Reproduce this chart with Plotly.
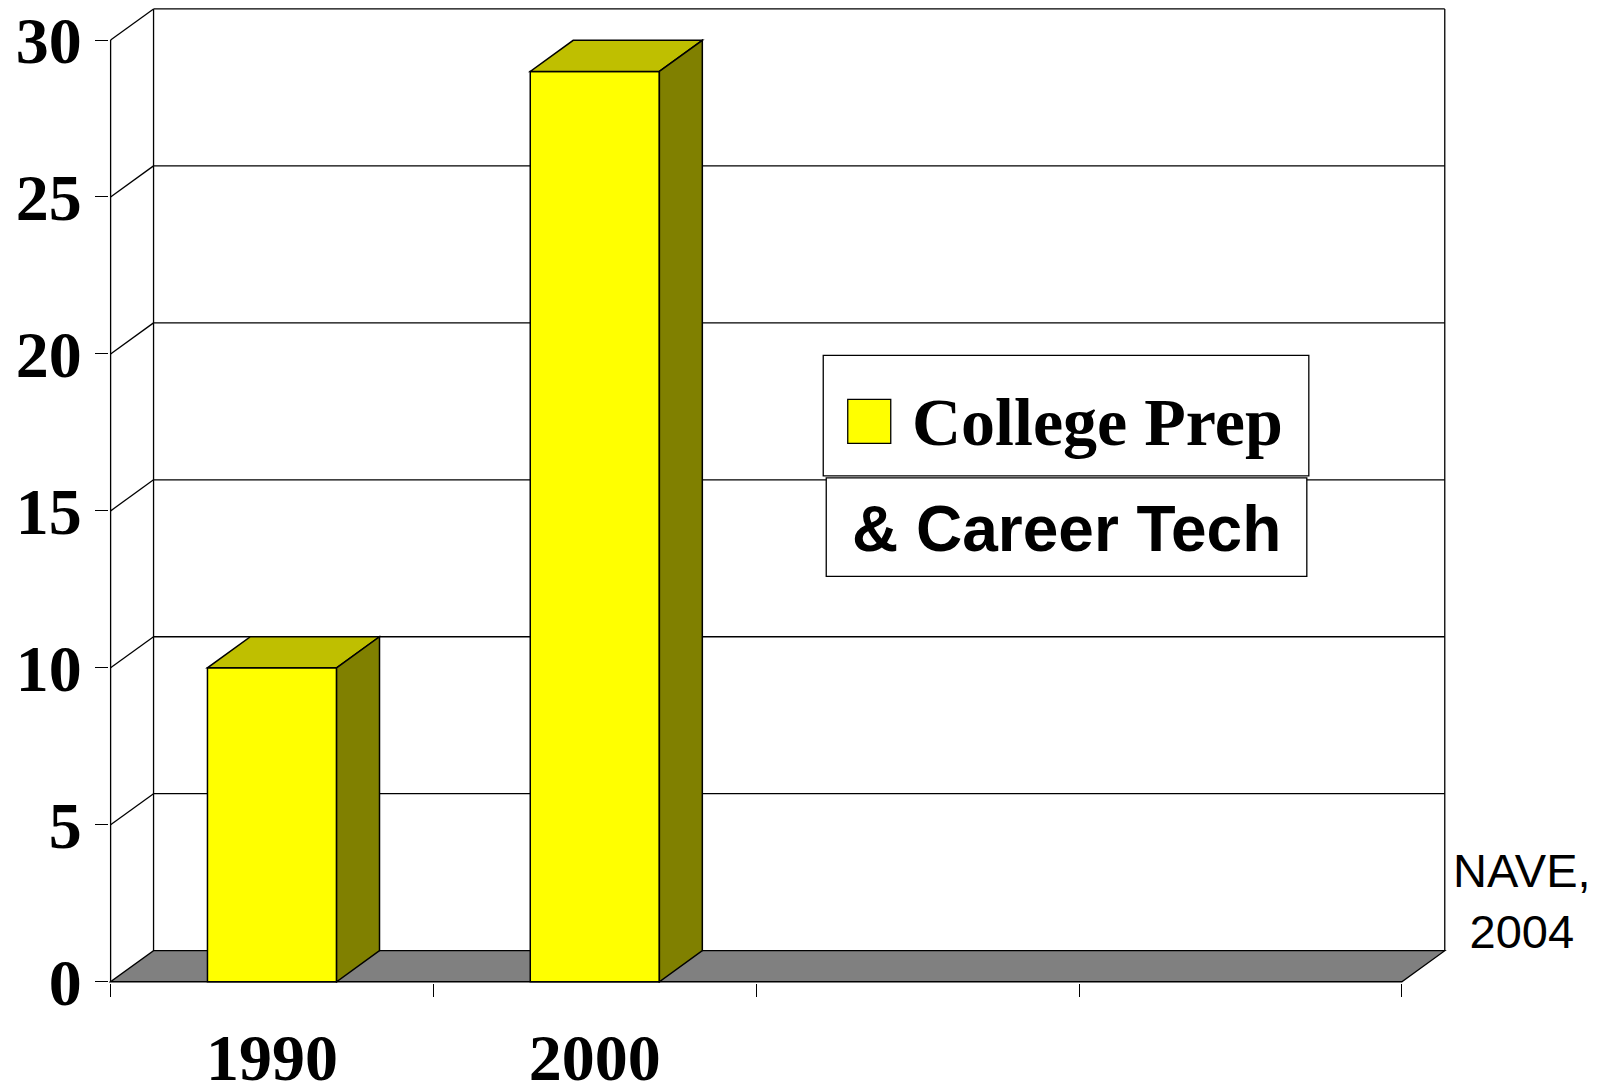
import plotly.graph_objects as go

categories = ["1990", "2000", " ", "  "]
college_prep = [10, 29, None, None]
series_name = "College Prep"
series_note = "& Career Tech"
y_ticks = [0, 5, 10, 15, 20, 25, 30]
source_note = "NAVE,<br>2004"

OFF = 8                       # page body margin
W, H = 1606 - OFF, 1083 - OFF
DX, DY = 0.133, 0.99          # depth of the 3D box, in data units
BAR_W = 0.4
S_X, S_Y = 322.75, 31.4       # px per data unit
X0PX, Y0PX = 111 - OFF, 982 - OFF
X0, X1 = -0.5, len(categories) - 0.5
Y_TOP = max(y_ticks)

x_lo, x_hi = X0 - 0.005, X1 + DX + 0.01
y_lo, y_hi = -0.04, Y_TOP + DY + 0.03
L = X0PX - (X0 - x_lo) * S_X
R = W - (L + (x_hi - x_lo) * S_X)
T = max(0, Y0PX - y_hi * S_Y)
B = H - (Y0PX - y_lo * S_Y)


def px(x):
    return (x - OFF - L) / (W - L - R)


def py(y):
    return (H - B - (y - OFF)) / (H - T - B)


line = dict(color="black", width=1.3)
shapes = []
for v in y_ticks[1:]:
    shapes.append(dict(type="line", x0=X0 + DX, x1=X1 + DX, y0=v + DY, y1=v + DY, line=line, layer="below"))
    shapes.append(dict(type="line", x0=X0, x1=X0 + DX, y0=v, y1=v + DY, line=line, layer="below"))
for xe in (X0 + DX, X1 + DX):
    shapes.append(dict(type="line", x0=xe, x1=xe, y0=DY, y1=Y_TOP + DY, line=line, layer="below"))
shapes.append(dict(type="line", x0=X0, x1=X0, y0=0, y1=Y_TOP, line=line, layer="below"))
shapes.append(dict(type="path", path=f"M{X0},0 L{X1},0 L{X1 + DX},{DY} L{X0 + DX},{DY} Z",
                   fillcolor="#808080", line=line, layer="below"))

for i, v in enumerate(college_prep):
    if v is None:
        continue
    l, r = i - BAR_W / 2, i + BAR_W / 2
    shapes.append(dict(type="path", path=f"M{l},{v} L{r},{v} L{r + DX},{v + DY} L{l + DX},{v + DY} Z",
                       fillcolor="#BFBF00", line=dict(color="black", width=1.5), layer="above"))
    shapes.append(dict(type="path", path=f"M{r},0 L{r},{v} L{r + DX},{v + DY} L{r + DX},{DY} Z",
                       fillcolor="#808000", line=dict(color="black", width=1.5), layer="above"))

# legend boxes
shapes.append(dict(type="rect", xref="paper", yref="paper", x0=px(823.5), x1=px(1309), y0=py(476), y1=py(355.5),
                   fillcolor="white", line=dict(color="black", width=1.3)))
shapes.append(dict(type="rect", xref="paper", yref="paper", x0=px(826.5), x1=px(1307), y0=py(576.5), y1=py(478),
                   fillcolor="white", line=dict(color="black", width=1.3)))
shapes.append(dict(type="rect", xref="paper", yref="paper", x0=px(848), x1=px(891), y0=py(443.5), y1=py(399.5),
                   fillcolor="#FFFF00", line=dict(color="black", width=1.3)))

fig = go.Figure()
fig.add_trace(go.Bar(x=categories, y=college_prep, width=BAR_W, name=series_name,
                     marker=dict(color="#FFFF00", line=dict(color="black", width=1.5))))

tick_font = dict(family="Liberation Serif", size=66, color="black", weight="bold")
fig.update_layout(
    width=W, height=H, margin=dict(l=L, r=R, t=T, b=B, pad=0),
    paper_bgcolor="white", plot_bgcolor="white", showlegend=False,
    shapes=shapes,
    xaxis=dict(type="category", categoryorder="array", categoryarray=categories, range=[x_lo, x_hi],
               tickson="boundaries", ticks="outside", ticklen=13, tickwidth=1.3, tickcolor="black",
               showgrid=False, zeroline=False, showline=False, tickfont=tick_font,
               ticklabelstandoff=30, ticklabeloverflow="allow", automargin=False),
    yaxis=dict(range=[y_lo, y_hi], tickvals=y_ticks, ticks="outside", ticklen=13, tickwidth=1.3,
               tickcolor="black", showgrid=False, zeroline=False, showline=False, tickfont=tick_font,
               ticklabelstandoff=0, ticklabeloverflow="allow", automargin=False),
    annotations=[
        dict(xref="paper", yref="paper", x=px(910), y=py(422), xanchor="left", yanchor="middle",
             text=series_name, showarrow=False,
             font=dict(family="Liberation Serif", size=68, color="black", weight="bold")),
        dict(xref="paper", yref="paper", x=px(1067), y=py(529.5), xanchor="center", yanchor="middle",
             text=series_note, showarrow=False,
             font=dict(family="Liberation Sans", size=64, color="black", weight="bold")),
        dict(xref="paper", yref="paper", x=px(1522), y=py(901), xanchor="center", yanchor="middle",
             text=source_note, showarrow=False,
             font=dict(family="Liberation Sans", size=47, color="black")),
    ],
)

fig.write_html("out.html")
